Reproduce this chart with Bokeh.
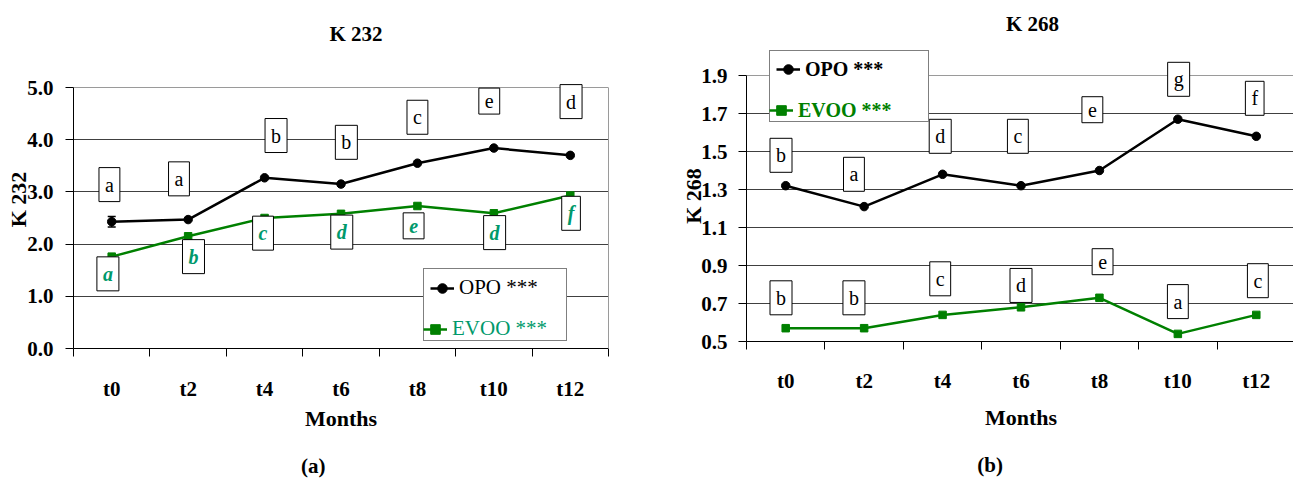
from bokeh.plotting import figure
from bokeh.models import (FixedTicker, Legend, LegendItem, Whisker, TeeHead,
                          ColumnDataSource, PrintfTickFormatter, LinearAxis, Grid)
from bokeh.layouts import row
from bokeh.core.properties import value
from bokeh.embed import file_html
from bokeh.resources import INLINE

# ---------------- data ----------------
months = ["t0", "t2", "t4", "t6", "t8", "t10", "t12"]

k232_opo = [2.43, 2.47, 3.27, 3.15, 3.55, 3.84, 3.70]
k232_opo_err = [0.10, 0.0, 0.0, 0.0, 0.0, 0.0, 0.0]
k232_evoo = [1.76, 2.15, 2.50, 2.58, 2.73, 2.59, 2.93]
k232_opo_letters = ["a", "a", "b", "b", "c", "e", "d"]
k232_evoo_letters = ["a", "b", "c", "d", "e", "d", "f"]

k268_opo = [1.32, 1.21, 1.38, 1.32, 1.40, 1.67, 1.58]
k268_evoo = [0.57, 0.57, 0.64, 0.68, 0.73, 0.54, 0.64]
k268_opo_letters = ["b", "a", "d", "c", "e", "g", "f"]
k268_evoo_letters = ["b", "b", "c", "d", "e", "a", "c"]

k232_ticks = [0, 1, 2, 3, 4, 5]
k268_ticks = [0.5, 0.7, 0.9, 1.1, 1.3, 1.5, 1.7, 1.9]

# letter-box placement (offset from category centre, y value)
k232_opo_lab_dx = [-0.03, -0.12, 0.15, 0.07, 0.0, -0.06, 0.01]
k232_opo_lab_y = [3.14, 3.25, 4.08, 3.95, 4.43, 4.74, 4.73]
k232_evoo_lab_dx = [-0.05, 0.07, -0.02, 0.01, -0.05, 0.01, 0.01]
k232_evoo_lab_y = [1.43, 1.76, 2.21, 2.23, 2.35, 2.22, 2.59]
k268_opo_lab_dx = [-0.06, -0.13, -0.03, -0.04, -0.09, 0.01, -0.02]
k268_opo_lab_y = [1.48, 1.38, 1.58, 1.58, 1.72, 1.88, 1.78]
k268_evoo_lab_dx = [-0.06, -0.13, -0.03, 0.0, 0.04, 0.0, 0.02]
k268_evoo_lab_y = [0.73, 0.73, 0.83, 0.795, 0.92, 0.71, 0.82]

FONT = "Liberation Serif"
GREEN = "#008000"
TEAL = "#00996B"
GRID = "#404040"
GRID_TOP = "#9a9a9a"

xc = [i + 0.5 for i in range(len(months))]


def text_axis(p, side, xpos, label, standoff, size):
    ax = LinearAxis(ticker=FixedTicker(ticks=[xpos]),
                    major_label_overrides={xpos: label},
                    axis_line_color=None, major_tick_line_color=None,
                    minor_tick_line_color=None, major_tick_out=0, major_tick_in=0,
                    minor_tick_out=0, minor_tick_in=0,
                    major_label_standoff=standoff,
                    major_label_text_font=FONT, major_label_text_font_size=size,
                    major_label_text_font_style="bold", major_label_text_color="black")
    p.add_layout(ax, side)


def base_fig(frame_w, frame_h, y_top, yticks, ylabel, mb_left, mb_right, mb_top,
             ylab_standoff, ylbl_standoff, xlab_standoff, xlbl_standoff):
    p = figure(frame_width=frame_w, frame_height=frame_h,
               x_range=(0, len(months)), y_range=(yticks[0], y_top),
               output_backend="svg", toolbar_location=None,
               min_border_left=mb_left, min_border_right=mb_right,
               min_border_top=mb_top, min_border_bottom=0)
    p.background_fill_color = "white"
    p.border_fill_color = "white"
    p.outline_line_color = None
    # x axis
    p.xaxis.ticker = FixedTicker(ticks=xc, minor_ticks=list(range(len(months) + 1)))
    p.xaxis.major_label_overrides = {x: m for x, m in zip(xc, months)}
    p.xaxis.major_tick_line_color = None
    p.xaxis.minor_tick_line_color = "black"
    p.xaxis.minor_tick_out = 8
    p.xaxis.minor_tick_in = 0
    p.xaxis.axis_label = "Months"
    p.xaxis.major_label_standoff = xlbl_standoff
    p.xaxis.axis_label_standoff = xlab_standoff
    p.xgrid.visible = False
    # y axis
    p.yaxis.ticker = FixedTicker(ticks=yticks)
    p.yaxis.bounds = (yticks[0], yticks[-1])
    p.yaxis.formatter = PrintfTickFormatter(format="%.1f")
    p.yaxis.major_tick_out = 8
    p.yaxis.major_tick_in = 0
    p.yaxis.minor_tick_line_color = None
    p.yaxis.axis_label = ylabel
    p.yaxis.axis_label_standoff = ylab_standoff
    p.yaxis.major_label_standoff = ylbl_standoff
    p.ygrid.ticker = FixedTicker(ticks=yticks[1:-1])
    p.ygrid.grid_line_color = GRID
    p.add_layout(Grid(dimension=1, ticker=FixedTicker(ticks=[yticks[-1]]),
                      grid_line_color=GRID_TOP))
    for ax in (p.xaxis, p.yaxis):
        ax.axis_line_color = "black"
        ax.major_label_text_font = FONT
        ax.major_label_text_font_size = "21px"
        ax.major_label_text_font_style = "bold"
        ax.major_label_text_color = "black"
        ax.axis_label_text_font = FONT
        ax.axis_label_text_font_size = "22px"
        ax.axis_label_text_font_style = "bold"
        ax.axis_label_text_color = "black"
    return p


def letters(p, dx, ys, texts, color, style):
    p.text(x=[c + d for c, d in zip(xc, dx)], y=ys, text=texts,
           text_font=value(FONT), text_font_size="20px", text_font_style=style,
           text_color=color, text_align="center", text_baseline="middle",
           border_line_color="black", border_line_width=1,
           background_fill_color="white", padding=6)


def legends(p, loc, evoo_color, style, size, label_width, r_opo, r_evoo):
    dummy = p.line(x=[], y=[], line_alpha=0)
    common = dict(location=loc, padding=6, spacing=10, glyph_width=24, glyph_height=24,
                  label_height=24, label_width=label_width, label_standoff=5, margin=0,
                  label_text_font=FONT, label_text_font_size=size,
                  label_text_font_style=style)
    legA = Legend(items=[LegendItem(label="OPO ***", renderers=r_opo),
                         LegendItem(label="", renderers=[dummy])],
                  border_line_color="black", border_line_width=1,
                  background_fill_color="white", background_fill_alpha=1,
                  label_text_color="black", **common)
    legB = Legend(items=[LegendItem(label="EVOO ***", renderers=r_evoo)],
                  border_line_color=None, background_fill_alpha=0,
                  label_text_color=evoo_color, **common)
    p.add_layout(legA)
    p.add_layout(legB)


# ---------------- (a) K 232 ----------------
# frame spans y 50..348 px; 52.2 px per unit
p1 = base_fig(535, 298, 5.709, k232_ticks, "K 232", 73, 70, 50,
              -7, 12, 2, 20)
# grey right border of the plot area
p1.add_layout(LinearAxis(ticker=FixedTicker(ticks=[]), bounds=(0, 5),
                         axis_line_color=GRID_TOP, major_tick_out=0, major_tick_in=0,
                         minor_tick_out=0, minor_tick_in=0), "right")
text_axis(p1, "above", 3.697, "K 232", 5, "21px")
text_axis(p1, "below", 3.136, "(a)", 20, "21px")

src_err = ColumnDataSource(dict(
    x=[x for x, e in zip(xc, k232_opo_err) if e > 0],
    u=[y + e for y, e in zip(k232_opo, k232_opo_err) if e > 0],
    l=[y - e for y, e in zip(k232_opo, k232_opo_err) if e > 0]))
p1.add_layout(Whisker(source=src_err, base="x", upper="u", lower="l", line_color="black",
                      line_width=1.5,
                      upper_head=TeeHead(size=8, line_color="black", line_width=1.5),
                      lower_head=TeeHead(size=8, line_color="black", line_width=1.5)))

o1l = p1.line(xc, k232_opo, line_color="black", line_width=2.5)
o1s = p1.scatter(xc, k232_opo, marker="circle", size=8.5, color="black")
e1l = p1.line(xc, k232_evoo, line_color=GREEN, line_width=2.5)
e1s = p1.scatter(xc, k232_evoo, marker="square", size=7.5, color=GREEN)

letters(p1, k232_opo_lab_dx, k232_opo_lab_y, k232_opo_letters, "black", "normal")
letters(p1, k232_evoo_lab_dx, k232_evoo_lab_y, k232_evoo_letters, TEAL, "bold italic")
legends(p1, (350, 7), TEAL, "normal", "21px", 101, [o1l, o1s], [e1l, e1s])

# ---------------- (b) K 268 ----------------
# frame spans y 50..341 px; 190 px per unit
p2 = base_fig(549, 291, 2.0316, k268_ticks, "K 268", 65, 0, 50,
              -8, 11, 9, 19)
text_axis(p2, "above", 3.647, "K 268", 15, "21px")
text_axis(p2, "below", 3.106, "(b)", 20, "21px")

o2l = p2.line(xc, k268_opo, line_color="black", line_width=2.5)
o2s = p2.scatter(xc, k268_opo, marker="circle", size=8.5, color="black")
e2l = p2.line(xc, k268_evoo, line_color=GREEN, line_width=2.5)
e2s = p2.scatter(xc, k268_evoo, marker="square", size=7.5, color=GREEN)

letters(p2, k268_opo_lab_dx, k268_opo_lab_y, k268_opo_letters, "black", "normal")
letters(p2, k268_evoo_lab_dx, k268_evoo_lab_y, k268_evoo_letters, "black", "normal")
legends(p2, (23, 219), GREEN, "bold", "20px", 117, [o2l, o2s], [e2l, e2s])

layout = row(p1, p2, spacing=0)
open("out.html", "w").write(file_html(layout, INLINE))
